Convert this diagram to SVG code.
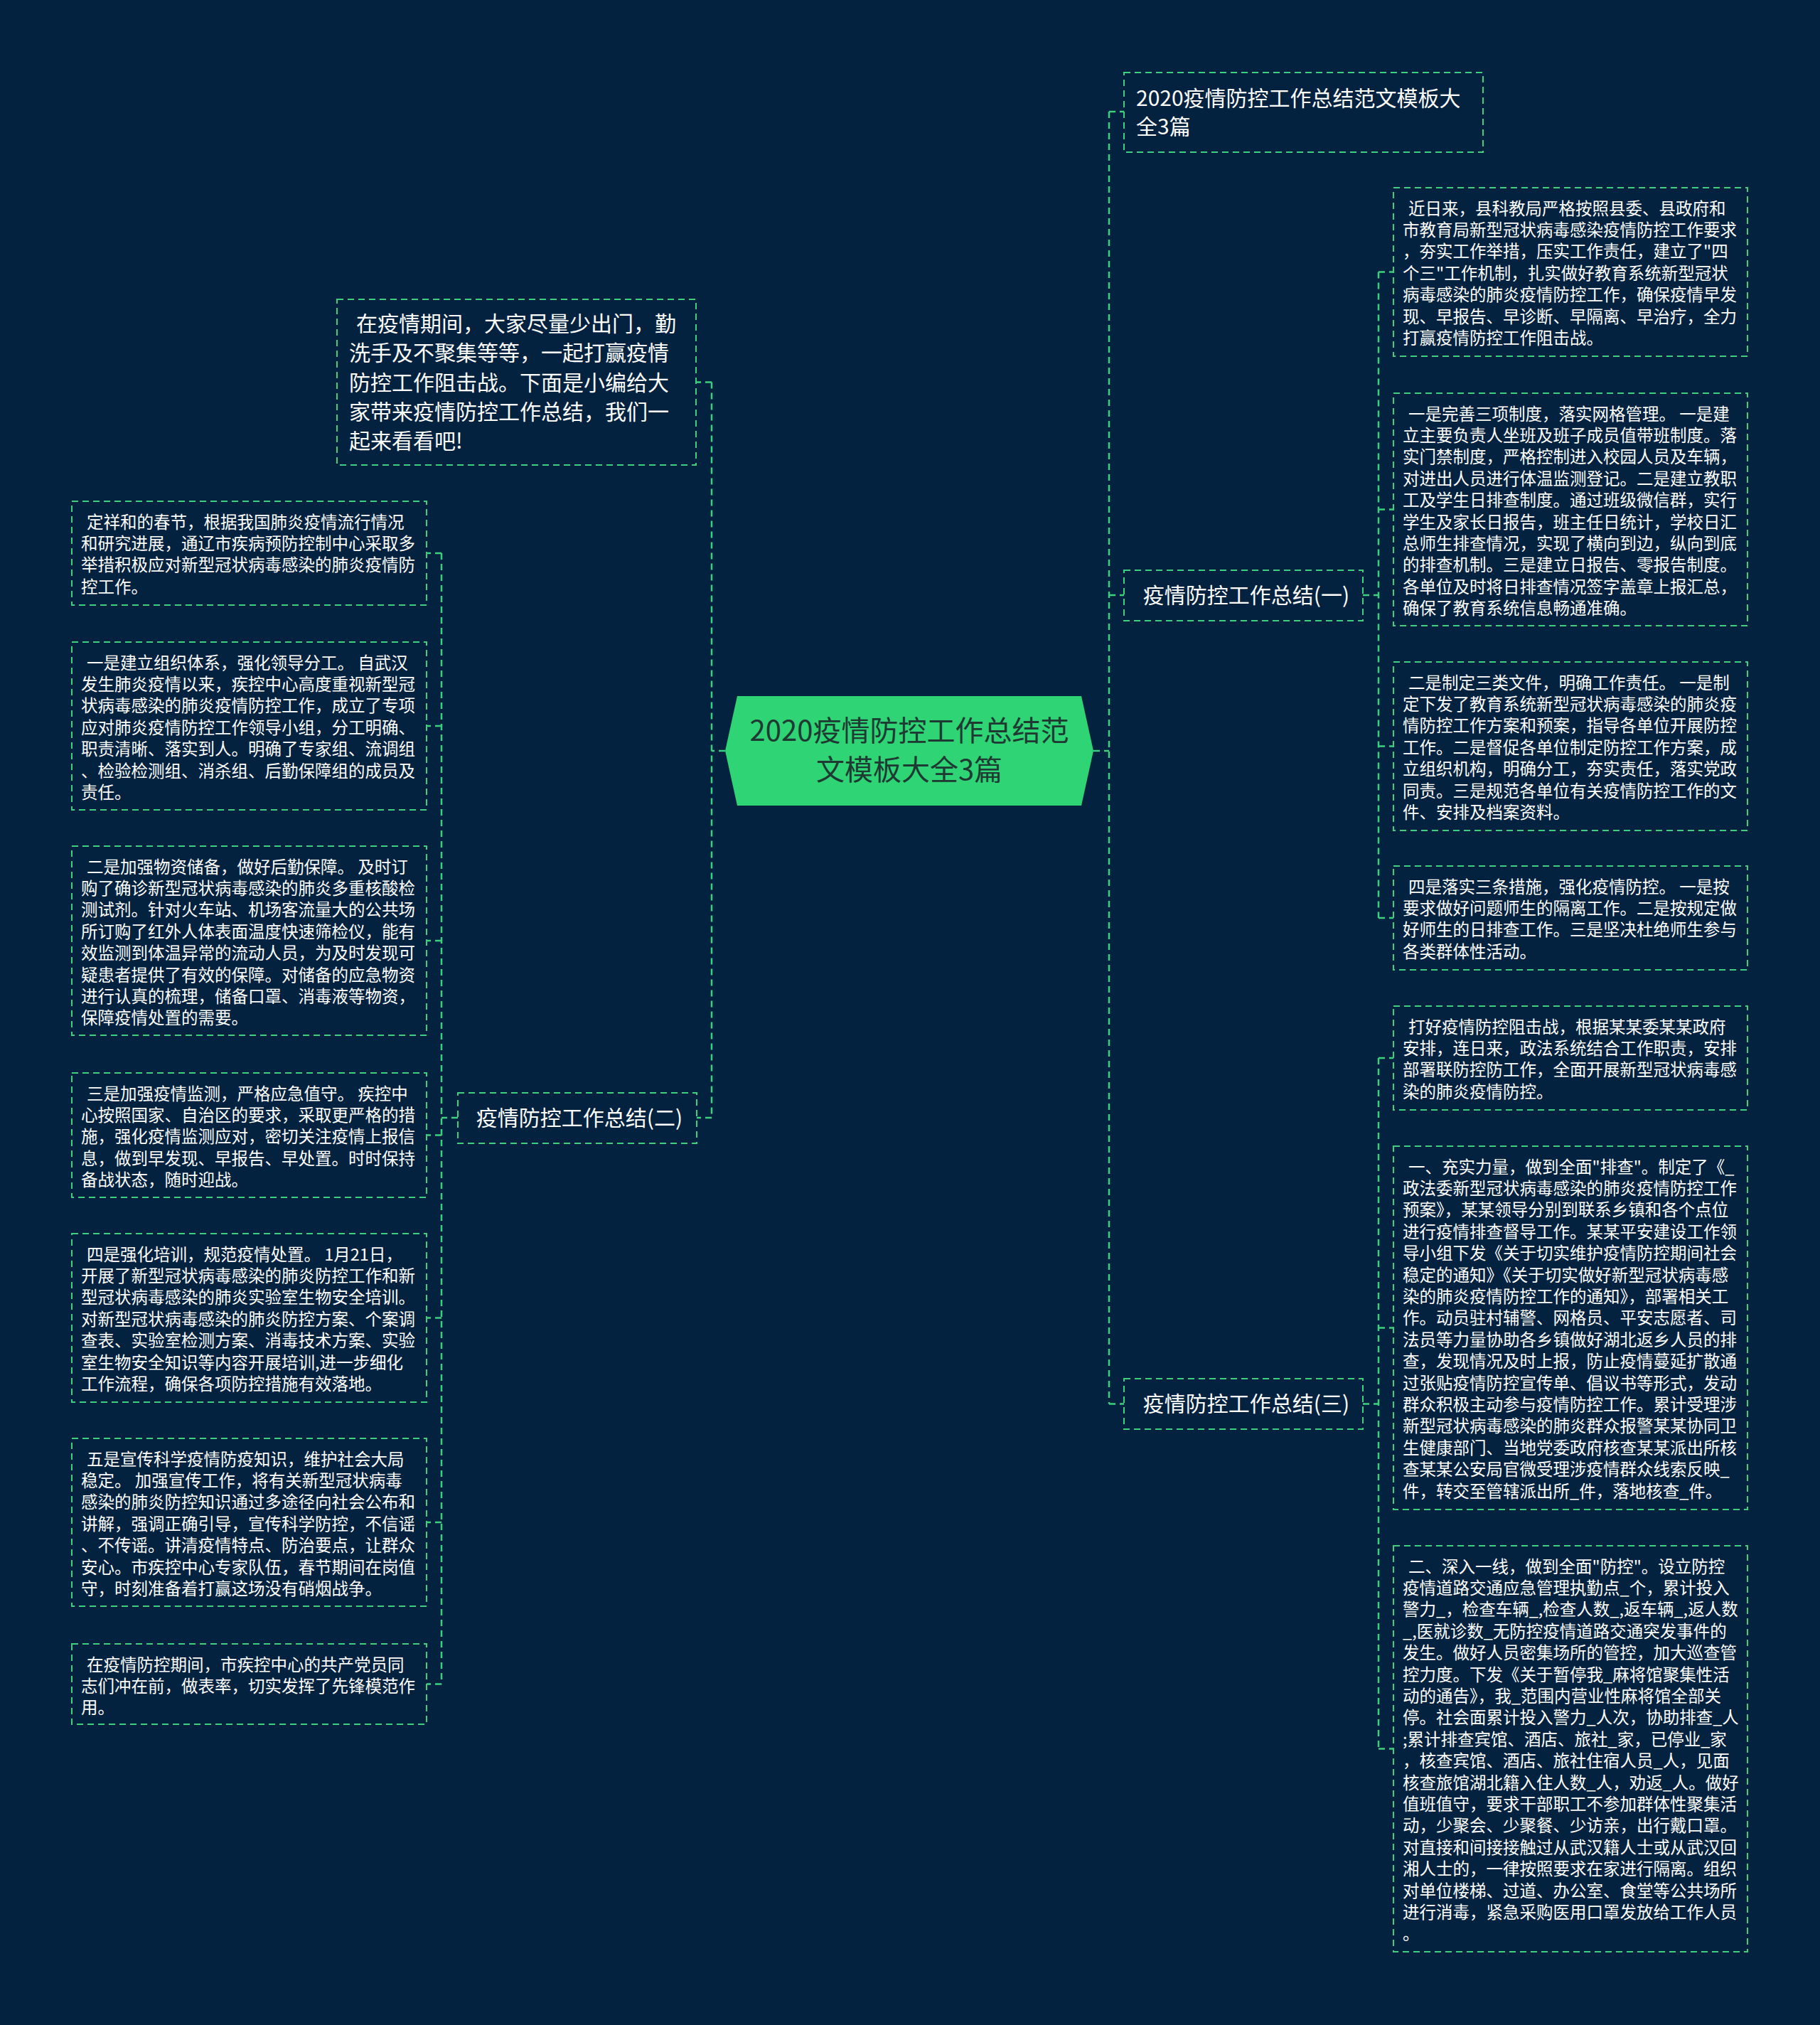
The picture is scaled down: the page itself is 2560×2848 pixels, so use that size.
<svg xmlns="http://www.w3.org/2000/svg" width="2560" height="2848" viewBox="0 0 2560 2848">
<style>
.bg{fill:#03223f}
.box{fill:none;stroke:#3ccf7e;stroke-width:2;stroke-dasharray:9 6}
.conn{fill:none;stroke:#3ccf7e;stroke-width:2.5;stroke-dasharray:9 6}
.t{font-family:"Noto Sans CJK SC","Noto Sans",sans-serif;fill:#ffffff}
.s{font-size:23.5px}
.m{font-size:30px}
.c{font-size:40px;fill:#1e3a32;text-anchor:middle}
.mid{text-anchor:middle}
</style>
<rect class="bg" x="0" y="0" width="2560" height="2848"/>
<g id="connectors">
<path class="conn" d="M1538,1056 H1560 M1560,157 V1974.5 M1560,157 H1581 M1560,837 H1581 M1560,1974.5 H1581"/>
<path class="conn" d="M1917,837 H1939 M1939,382.5 V1291 M1939,382.5 H1960 M1939,716.5 H1960 M1939,1049.5 H1960 M1939,1291 H1960"/>
<path class="conn" d="M1917,1974.5 H1939 M1939,1488 V2459.5 M1939,1488 H1960 M1939,1867.5 H1960 M1939,2459.5 H1960"/>
<path class="conn" d="M1020,1056 H1001 M1001,537.5 V1572 M1001,537.5 H979 M1001,1572 H980"/>
<path class="conn" d="M644,1572 H621 M621,778 V2368.5 M621,778 H600 M621,1021 H600 M621,1323 H600 M621,1596.5 H600 M621,1853.5 H600 M621,2141 H600 M621,2368.5 H600"/>
</g>
<g id="center">
<polygon points="1037,979 1521,979 1538,1056 1521,1133 1037,1133 1020,1056" fill="#2fd475"/>
<text class="t c" x="1279" y="1042">2020疫情防控工作总结范</text>
<text class="t c" x="1279" y="1097">文模板大全3篇</text>
</g>
<g id="title-node">
<rect class="box" x="1581" y="102" width="505" height="112"/>
<text class="t m" x="1598" y="149">2020疫情防控工作总结范文模板大</text>
<text class="t m" x="1598" y="189">全3篇</text>
</g>
<g id="summary1">
<rect class="box" x="1581" y="802" width="336" height="71"/>
<text class="t m mid" x="1753" y="848">疫情防控工作总结(一)</text>
</g>
<g id="summary3">
<rect class="box" x="1581" y="1939" width="336" height="71"/>
<text class="t m mid" x="1753" y="1985">疫情防控工作总结(三)</text>
</g>
<g id="intro">
<rect class="box" x="474" y="421" width="505" height="233"/>
<text class="t m" x="491" y="466"><tspan x="501">在疫情期间，大家尽量少出门，勤</tspan><tspan x="491" dy="41.3">洗手及不聚集等等，一起打赢疫情</tspan><tspan x="491" dy="41.3">防控工作阻击战。下面是小编给大</tspan><tspan x="491" dy="41.3">家带来疫情防控工作总结，我们一</tspan><tspan x="491" dy="41.3">起来看看吧!</tspan></text>
</g>
<g id="summary2">
<rect class="box" x="644" y="1537" width="336" height="71"/>
<text class="t m mid" x="815" y="1583">疫情防控工作总结(二)</text>
</g>
<g id="b1">
<rect class="box" x="1960" y="264" width="498" height="237"/>
<text class="t s" x="1973" y="301.5"><tspan x="1981">近日来，县科教局严格按照县委、县政府和</tspan><tspan x="1973" dy="30.4">市教育局新型冠状病毒感染疫情防控工作要求</tspan><tspan x="1973" dy="30.4">，夯实工作举措，压实工作责任，建立了"四</tspan><tspan x="1973" dy="30.4">个三"工作机制，扎实做好教育系统新型冠状</tspan><tspan x="1973" dy="30.4">病毒感染的肺炎疫情防控工作，确保疫情早发</tspan><tspan x="1973" dy="30.4">现、早报告、早诊断、早隔离、早治疗，全力</tspan><tspan x="1973" dy="30.4">打赢疫情防控工作阻击战。</tspan></text>
</g>
<g id="b2">
<rect class="box" x="1960" y="553" width="498" height="327"/>
<text class="t s" x="1973" y="590.5"><tspan x="1981">一是完善三项制度，落实网格管理。 一是建</tspan><tspan x="1973" dy="30.4">立主要负责人坐班及班子成员值带班制度。落</tspan><tspan x="1973" dy="30.4">实门禁制度，严格控制进入校园人员及车辆，</tspan><tspan x="1973" dy="30.4">对进出人员进行体温监测登记。二是建立教职</tspan><tspan x="1973" dy="30.4">工及学生日排查制度。通过班级微信群，实行</tspan><tspan x="1973" dy="30.4">学生及家长日报告，班主任日统计，学校日汇</tspan><tspan x="1973" dy="30.4">总师生排查情况，实现了横向到边，纵向到底</tspan><tspan x="1973" dy="30.4">的排查机制。三是建立日报告、零报告制度。</tspan><tspan x="1973" dy="30.4">各单位及时将日排查情况签字盖章上报汇总，</tspan><tspan x="1973" dy="30.4">确保了教育系统信息畅通准确。</tspan></text>
</g>
<g id="b3">
<rect class="box" x="1960" y="931" width="498" height="237"/>
<text class="t s" x="1973" y="968.5"><tspan x="1981">二是制定三类文件，明确工作责任。 一是制</tspan><tspan x="1973" dy="30.4">定下发了教育系统新型冠状病毒感染的肺炎疫</tspan><tspan x="1973" dy="30.4">情防控工作方案和预案，指导各单位开展防控</tspan><tspan x="1973" dy="30.4">工作。二是督促各单位制定防控工作方案，成</tspan><tspan x="1973" dy="30.4">立组织机构，明确分工，夯实责任，落实党政</tspan><tspan x="1973" dy="30.4">同责。三是规范各单位有关疫情防控工作的文</tspan><tspan x="1973" dy="30.4">件、安排及档案资料。</tspan></text>
</g>
<g id="b4">
<rect class="box" x="1960" y="1218" width="498" height="146"/>
<text class="t s" x="1973" y="1255.5"><tspan x="1981">四是落实三条措施，强化疫情防控。 一是按</tspan><tspan x="1973" dy="30.4">要求做好问题师生的隔离工作。二是按规定做</tspan><tspan x="1973" dy="30.4">好师生的日排查工作。三是坚决杜绝师生参与</tspan><tspan x="1973" dy="30.4">各类群体性活动。</tspan></text>
</g>
<g id="c1">
<rect class="box" x="1960" y="1415" width="498" height="146"/>
<text class="t s" x="1973" y="1452.5"><tspan x="1981">打好疫情防控阻击战，根据某某委某某政府</tspan><tspan x="1973" dy="30.4">安排，连日来，政法系统结合工作职责，安排</tspan><tspan x="1973" dy="30.4">部署联防控防工作，全面开展新型冠状病毒感</tspan><tspan x="1973" dy="30.4">染的肺炎疫情防控。</tspan></text>
</g>
<g id="c2">
<rect class="box" x="1960" y="1612" width="498" height="511"/>
<text class="t s" x="1973" y="1649.5"><tspan x="1981">一、充实力量，做到全面"排查"。制定了《_</tspan><tspan x="1973" dy="30.4">政法委新型冠状病毒感染的肺炎疫情防控工作</tspan><tspan x="1973" dy="30.4">预案》，某某领导分别到联系乡镇和各个点位</tspan><tspan x="1973" dy="30.4">进行疫情排查督导工作。某某平安建设工作领</tspan><tspan x="1973" dy="30.4">导小组下发《关于切实维护疫情防控期间社会</tspan><tspan x="1973" dy="30.4">稳定的通知》《关于切实做好新型冠状病毒感</tspan><tspan x="1973" dy="30.4">染的肺炎疫情防控工作的通知》，部署相关工</tspan><tspan x="1973" dy="30.4">作。动员驻村辅警、网格员、平安志愿者、司</tspan><tspan x="1973" dy="30.4">法员等力量协助各乡镇做好湖北返乡人员的排</tspan><tspan x="1973" dy="30.4">查，发现情况及时上报，防止疫情蔓延扩散通</tspan><tspan x="1973" dy="30.4">过张贴疫情防控宣传单、倡议书等形式，发动</tspan><tspan x="1973" dy="30.4">群众积极主动参与疫情防控工作。累计受理涉</tspan><tspan x="1973" dy="30.4">新型冠状病毒感染的肺炎群众报警某某协同卫</tspan><tspan x="1973" dy="30.4">生健康部门、当地党委政府核查某某派出所核</tspan><tspan x="1973" dy="30.4">查某某公安局官微受理涉疫情群众线索反映_</tspan><tspan x="1973" dy="30.4">件，转交至管辖派出所_件，落地核查_件。</tspan></text>
</g>
<g id="c3">
<rect class="box" x="1960" y="2174" width="498" height="571"/>
<text class="t s" x="1973" y="2211.5"><tspan x="1981">二、深入一线，做到全面"防控"。设立防控</tspan><tspan x="1973" dy="30.4">疫情道路交通应急管理执勤点_个，累计投入</tspan><tspan x="1973" dy="30.4">警力_，检查车辆_,检查人数_,返车辆_,返人数</tspan><tspan x="1973" dy="30.4">_,医就诊数_无防控疫情道路交通突发事件的</tspan><tspan x="1973" dy="30.4">发生。做好人员密集场所的管控，加大巡查管</tspan><tspan x="1973" dy="30.4">控力度。下发《关于暂停我_麻将馆聚集性活</tspan><tspan x="1973" dy="30.4">动的通告》，我_范围内营业性麻将馆全部关</tspan><tspan x="1973" dy="30.4">停。社会面累计投入警力_人次，协助排查_人</tspan><tspan x="1973" dy="30.4">;累计排查宾馆、酒店、旅社_家，已停业_家</tspan><tspan x="1973" dy="30.4">，核查宾馆、酒店、旅社住宿人员_人，见面</tspan><tspan x="1973" dy="30.4">核查旅馆湖北籍入住人数_人，劝返_人。做好</tspan><tspan x="1973" dy="30.4">值班值守，要求干部职工不参加群体性聚集活</tspan><tspan x="1973" dy="30.4">动，少聚会、少聚餐、少访亲，出行戴口罩。</tspan><tspan x="1973" dy="30.4">对直接和间接接触过从武汉籍人士或从武汉回</tspan><tspan x="1973" dy="30.4">湘人士的，一律按照要求在家进行隔离。组织</tspan><tspan x="1973" dy="30.4">对单位楼梯、过道、办公室、食堂等公共场所</tspan><tspan x="1973" dy="30.4">进行消毒，紧急采购医用口罩发放给工作人员</tspan><tspan x="1973" dy="30.4">。</tspan></text>
</g>
<g id="e1">
<rect class="box" x="101" y="705" width="499" height="146"/>
<text class="t s" x="114" y="742.5"><tspan x="122">定祥和的春节，根据我国肺炎疫情流行情况</tspan><tspan x="114" dy="30.4">和研究进展，通辽市疾病预防控制中心采取多</tspan><tspan x="114" dy="30.4">举措积极应对新型冠状病毒感染的肺炎疫情防</tspan><tspan x="114" dy="30.4">控工作。</tspan></text>
</g>
<g id="e2">
<rect class="box" x="101" y="903" width="499" height="236"/>
<text class="t s" x="114" y="940.5"><tspan x="122">一是建立组织体系，强化领导分工。 自武汉</tspan><tspan x="114" dy="30.4">发生肺炎疫情以来，疾控中心高度重视新型冠</tspan><tspan x="114" dy="30.4">状病毒感染的肺炎疫情防控工作，成立了专项</tspan><tspan x="114" dy="30.4">应对肺炎疫情防控工作领导小组，分工明确、</tspan><tspan x="114" dy="30.4">职责清晰、落实到人。明确了专家组、流调组</tspan><tspan x="114" dy="30.4">、检验检测组、消杀组、后勤保障组的成员及</tspan><tspan x="114" dy="30.4">责任。</tspan></text>
</g>
<g id="e3">
<rect class="box" x="101" y="1190" width="499" height="266"/>
<text class="t s" x="114" y="1227.5"><tspan x="122">二是加强物资储备，做好后勤保障。 及时订</tspan><tspan x="114" dy="30.4">购了确诊新型冠状病毒感染的肺炎多重核酸检</tspan><tspan x="114" dy="30.4">测试剂。针对火车站、机场客流量大的公共场</tspan><tspan x="114" dy="30.4">所订购了红外人体表面温度快速筛检仪，能有</tspan><tspan x="114" dy="30.4">效监测到体温异常的流动人员，为及时发现可</tspan><tspan x="114" dy="30.4">疑患者提供了有效的保障。对储备的应急物资</tspan><tspan x="114" dy="30.4">进行认真的梳理，储备口罩、消毒液等物资，</tspan><tspan x="114" dy="30.4">保障疫情处置的需要。</tspan></text>
</g>
<g id="e4">
<rect class="box" x="101" y="1509" width="499" height="175"/>
<text class="t s" x="114" y="1546.5"><tspan x="122">三是加强疫情监测，严格应急值守。 疾控中</tspan><tspan x="114" dy="30.4">心按照国家、自治区的要求，采取更严格的措</tspan><tspan x="114" dy="30.4">施，强化疫情监测应对，密切关注疫情上报信</tspan><tspan x="114" dy="30.4">息，做到早发现、早报告、早处置。时时保持</tspan><tspan x="114" dy="30.4">备战状态，随时迎战。</tspan></text>
</g>
<g id="e5">
<rect class="box" x="101" y="1735" width="499" height="237"/>
<text class="t s" x="114" y="1772.5"><tspan x="122">四是强化培训，规范疫情处置。 1月21日，</tspan><tspan x="114" dy="30.4">开展了新型冠状病毒感染的肺炎防控工作和新</tspan><tspan x="114" dy="30.4">型冠状病毒感染的肺炎实验室生物安全培训。</tspan><tspan x="114" dy="30.4">对新型冠状病毒感染的肺炎防控方案、个案调</tspan><tspan x="114" dy="30.4">查表、实验室检测方案、消毒技术方案、实验</tspan><tspan x="114" dy="30.4">室生物安全知识等内容开展培训,进一步细化</tspan><tspan x="114" dy="30.4">工作流程，确保各项防控措施有效落地。</tspan></text>
</g>
<g id="e6">
<rect class="box" x="101" y="2023" width="499" height="236"/>
<text class="t s" x="114" y="2060.5"><tspan x="122">五是宣传科学疫情防疫知识，维护社会大局</tspan><tspan x="114" dy="30.4">稳定。 加强宣传工作，将有关新型冠状病毒</tspan><tspan x="114" dy="30.4">感染的肺炎防控知识通过多途径向社会公布和</tspan><tspan x="114" dy="30.4">讲解，强调正确引导，宣传科学防控，不信谣</tspan><tspan x="114" dy="30.4">、不传谣。讲清疫情特点、防治要点，让群众</tspan><tspan x="114" dy="30.4">安心。市疾控中心专家队伍，春节期间在岗值</tspan><tspan x="114" dy="30.4">守，时刻准备着打赢这场没有硝烟战争。</tspan></text>
</g>
<g id="e7">
<rect class="box" x="101" y="2312" width="499" height="113"/>
<text class="t s" x="114" y="2349.5"><tspan x="122">在疫情防控期间，市疾控中心的共产党员同</tspan><tspan x="114" dy="30.4">志们冲在前，做表率，切实发挥了先锋模范作</tspan><tspan x="114" dy="30.4">用。</tspan></text>
</g>
</svg>
